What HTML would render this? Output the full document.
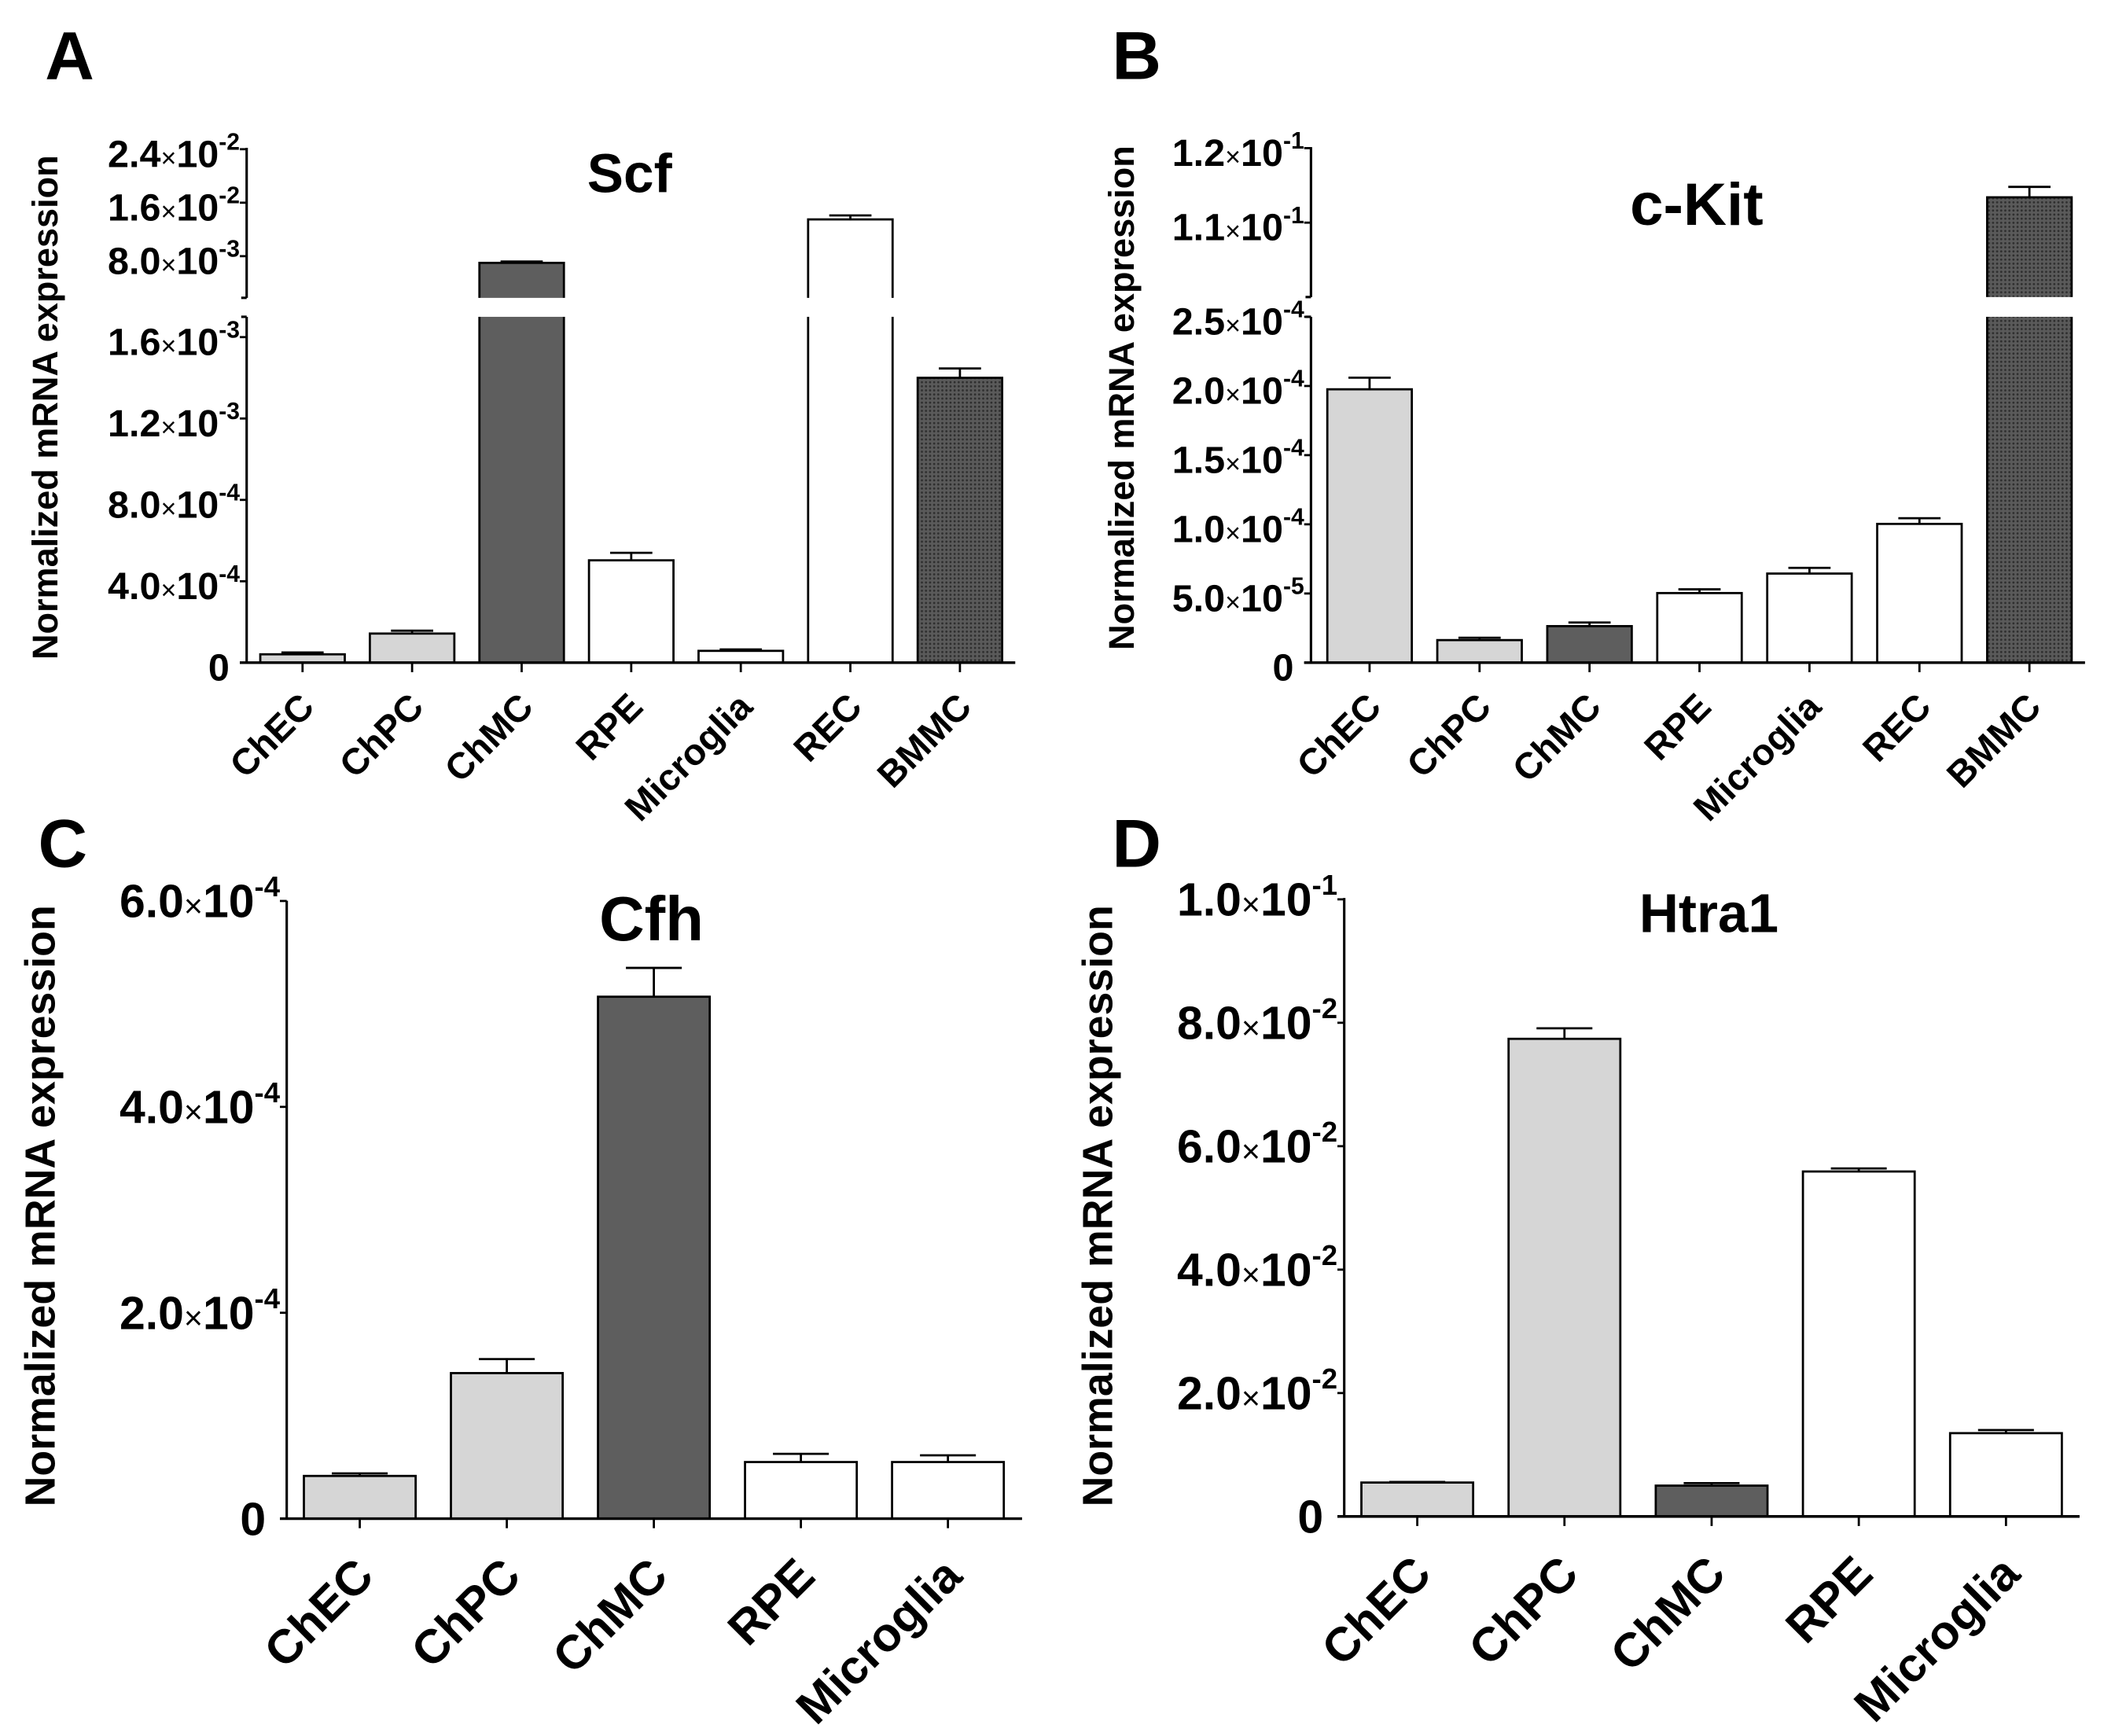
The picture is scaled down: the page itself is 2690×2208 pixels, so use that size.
<!DOCTYPE html>
<html><head><meta charset="utf-8"><style>
html,body{margin:0;padding:0;background:#fff;}
svg{display:block;}
text{font-family:"Liberation Sans",Arial,sans-serif;font-weight:bold;fill:#000;}
</style></head><body>
<svg id="fig" width="2690" height="2208" viewBox="0 0 1552 1274" preserveAspectRatio="none" xmlns="http://www.w3.org/2000/svg">
<defs>
<pattern id="stip" width="3" height="3" patternUnits="userSpaceOnUse">
<rect width="3" height="3" fill="#5a5a5a"/><circle cx="1.5" cy="1.5" r="0.8" fill="#2e2e2e"/>
</pattern>
</defs>
</svg>
<script>
// ---------- Panel A: Scf ----------
const catsA = ["ChEC","ChPC","ChMC","RPE","Microglia","REC","BMMC"];
const valsA = [4.1e-5,1.43e-4,7.0e-3,5.03e-4,5.8e-5,1.35e-2,1.40e-3];
const errA  = [5.0e-5,1.57e-4,7.2e-3,5.4e-4,6.5e-5,1.41e-2,1.446e-3];
const tickValsA = [0,4e-4,8e-4,1.2e-3,1.6e-3,8e-3,1.6e-2,2.4e-2];
const tickManA  = ["0","4.0","8.0","1.2","1.6","8.0","1.6","2.4"];
const tickExpA  = ["","-4","-4","-3","-3","-3","-2","-2"];
// ---------- Panel B: c-Kit ----------
const catsB = ["ChEC","ChPC","ChMC","RPE","Microglia","REC","BMMC"];
const valsB = [1.976e-4,1.63e-5,2.64e-5,5.03e-5,6.44e-5,1.003e-4,0.1134];
const errB  = [2.06e-4,1.8e-5,2.9e-5,5.3e-5,6.85e-5,1.044e-4,0.1148];
const tickValsB = [0,5e-5,1e-4,1.5e-4,2e-4,2.5e-4,0.11,0.12];
const tickManB  = ["0","5.0","1.0","1.5","2.0","2.5","1.1","1.2"];
const tickExpB  = ["","-5","-4","-4","-4","-4","-1","-1"];
// ---------- Panel C: Cfh ----------
const catsC = ["ChEC","ChPC","ChMC","RPE","Microglia"];
const valsC = [4.15e-5,1.414e-4,5.07e-4,5.5e-5,5.5e-5];
const errC  = [4.4e-5,1.55e-4,5.35e-4,6.3e-5,6.15e-5];
const tickValsC = [0,2e-4,4e-4,6e-4];
const tickManC  = ["0","2.0","4.0","6.0"];
const tickExpC  = ["","-4","-4","-4"];
// ---------- Panel D: Htra1 ----------
const catsD = ["ChEC","ChPC","ChMC","RPE","Microglia"];
const valsD = [5.5e-3,7.74e-2,5.0e-3,5.59e-2,1.35e-2];
const errD  = [5.6e-3,7.91e-2,5.4e-3,5.64e-2,1.4e-2];
const tickValsD = [0,2e-2,4e-2,6e-2,8e-2,1e-1];
const tickManD  = ["0","2.0","4.0","6.0","8.0","1.0"];
const tickExpD  = ["","-2","-2","-2","-2","-1"];

const NS = "http://www.w3.org/2000/svg";
const svg = document.getElementById("fig");
function mk(tag, attrs, parent){
  const e = document.createElementNS(NS, tag);
  for (const k in attrs) e.setAttribute(k, attrs[k]);
  (parent||svg).appendChild(e);
  return e;
}
const fillFor = {ChEC:"#d6d6d6",ChPC:"#d6d6d6",ChMC:"#5e5e5e",RPE:"#ffffff",Microglia:"#ffffff",REC:"#ffffff",BMMC:"url(#stip)"};

function makeScale(segs){
  return function(v){
    let s = segs[0];
    for (const sg of segs) if (v >= sg.lo) s = sg;
    return s.y0 + (v - s.v0) / (s.v1 - s.v0) * (s.y1 - s.y0);
  };
}

function drawPanel(p){
  const g = mk("g", {});
  
  
  const y = makeScale(p.segs);
  p.cats.forEach((c, i) => {
    const cx = p.x0 + p.step * i;
    const top = y(p.vals[i]);
    const bar = mk("rect", {x: cx - p.bw/2, y: top, width: p.bw, height: p.base - top, fill: fillFor[c], stroke: "#000", "stroke-width": 1.6}, g);
    
    
    const et = y(p.errs[i]);
    const eb = mk("path", {d: `M${cx} ${top} V${et} M${cx - p.bw*0.25} ${et} H${cx + p.bw*0.25}`, stroke: "#000", "stroke-width": 1.6, fill: "none"}, g);
    
    
    const tk = mk("line", {x1: cx, x2: cx, y1: p.base, y2: p.base + 7, stroke: "#000", "stroke-width": 1.6}, g);
    
    
    const lx = cx + p.lab.dx, ly = p.base + p.lab.dy;
    const t = mk("text", {x: lx, y: ly, "font-size": p.lab.fs, "text-anchor": "end", transform: `rotate(-45 ${lx} ${ly})`}, g);
    t.textContent = c;
    
    
  });
  if (p.gap) {
    const gr = mk("rect", {x: p.ax - 3, y: p.gap[0], width: p.xEnd - p.ax + 6, height: p.gap[1] - p.gap[0], fill: "#fff"}, g);
    
    
  }
  const yaxis = mk("path", {d: p.gap ? `M${p.ax} ${p.axTop} V${p.gap[0]} M${p.ax-4} ${p.gap[0]} H${p.ax} M${p.ax-4} ${p.gap[1]} H${p.ax} M${p.ax} ${p.gap[1]} V${p.base}` : `M${p.ax} ${p.axTop} V${p.base}`, stroke: "#000", "stroke-width": 1.8, fill: "none"}, g);
  
  
  const xaxis = mk("line", {x1: p.ax - 5, x2: p.xEnd, y1: p.base, y2: p.base, stroke: "#000", "stroke-width": 2}, g);
  
  
  p.tv.forEach((v, i) => {
    const ty = y(v);
    const tk = mk("line", {x1: p.ax - 5, x2: p.ax, y1: ty, y2: ty, stroke: "#000", "stroke-width": 1.6}, g);
    
    
    const t = mk("text", {x: p.ax - 5, y: ty + p.tdy, "font-size": p.tfs, "text-anchor": "end"}, g);
    
    
    if (p.tex[i] === "") { t.textContent = p.tm[i]; t.setAttribute("x", p.ax - p.tfs*0.45); }
    else {
      const a = mk("tspan", {}, t); a.textContent = p.tm[i];
      const b = mk("tspan", {"font-size": p.tfs*0.7, "font-weight": "normal"}, t); b.textContent = "×";
      const c2 = mk("tspan", {}, t); c2.textContent = "10";
      const d = mk("tspan", {"font-size": p.tfs*0.62, dy: -p.tfs*0.45}, t); d.textContent = p.tex[i];
    }
  });
  const tt = mk("text", {x: p.title[1], y: p.title[2], "font-size": p.title[3], "text-anchor": "middle"}, g);
  tt.textContent = p.title[0];
  
  
  const yt = mk("text", {x: p.ytitle[0], y: p.ytitle[1], "font-size": p.ytitle[2], "text-anchor": "middle", transform: `rotate(-90 ${p.ytitle[0]} ${p.ytitle[1]})`}, g);
  yt.textContent = "Normalized mRNA expression";
  
  
  const pl = mk("text", {x: p.letter[1], y: p.letter[2], "font-size": 50}, g);
  pl.textContent = p.letter[0];
  
  
}

drawPanel({name:"panel-a-scf", cats:catsA, vals:valsA, errs:errA, tv:tickValsA, tm:tickManA, tex:tickExpA,
  segs:[{lo:-1,v0:0,v1:1.6e-3,y0:486.3,y1:247.4},{lo:2.5e-3,v0:8e-3,v1:2.4e-2,y0:188,y1:109.5}],
  base:486.3, ax:181, axTop:108.5, xEnd:745, x0:222, step:80.4, bw:62, gap:[218.6,232.5],
  tfs:28, tdy:13, lab:{dx:10, dy:34, fs:27}, title:["Scf",462,141,40], ytitle:[42,299,26], letter:["A",33,58]});
drawPanel({name:"panel-b-ckit", cats:catsB, vals:valsB, errs:errB, tv:tickValsB, tm:tickManB, tex:tickExpB,
  segs:[{lo:-1,v0:0,v1:2.5e-4,y0:486.3,y1:232.5},{lo:0.05,v0:0.11,v1:0.12,y0:163.4,y1:108.7}],
  base:486.3, ax:962, axTop:108, xEnd:1530, x0:1005, step:80.7, bw:62, gap:[218,232.5],
  tfs:28, tdy:13, lab:{dx:10, dy:34, fs:27}, title:["c-Kit",1245,165,44], ytitle:[832,292,26], letter:["B",816,58]});
drawPanel({name:"panel-c-cfh", cats:catsC, vals:valsC, errs:errC, tv:tickValsC, tm:tickManC, tex:tickExpC,
  segs:[{lo:-1,v0:0,v1:6e-4,y0:1114.5,y1:661.2}],
  base:1114.5, ax:210.4, axTop:661, xEnd:750, x0:264, step:107.9, bw:82, gap:null,
  tfs:34, tdy:12, lab:{dx:12, dy:44, fs:35}, title:["Cfh",478,690,46], ytitle:[40,885,31], letter:["C",28,636]});
drawPanel({name:"panel-d-htra1", cats:catsD, vals:valsD, errs:errD, tv:tickValsD, tm:tickManD, tex:tickExpD,
  segs:[{lo:-1,v0:0,v1:0.1,y0:1112.9,y1:660}],
  base:1112.9, ax:986.4, axTop:659, xEnd:1526, x0:1040, step:108, bw:82, gap:null,
  tfs:34, tdy:12, lab:{dx:12, dy:44, fs:35}, title:["Htra1",1254,684,40], ytitle:[816,885,31], letter:["D",816,636]});
</script>
</body></html>
